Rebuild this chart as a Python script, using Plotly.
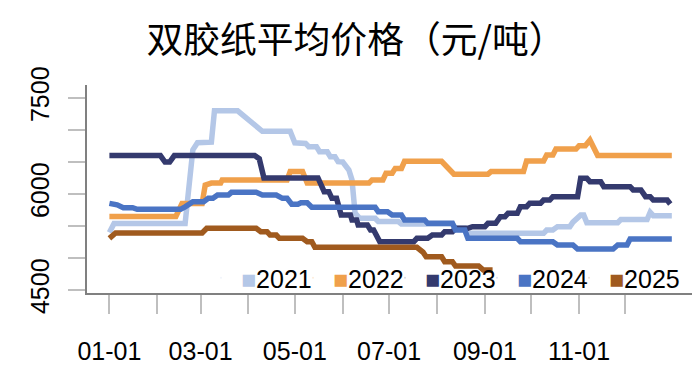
import plotly.graph_objects as go

BASE_YEAR = "2023"

years = ["2021", "2022", "2023", "2024", "2025"]
colors = ["#B4C7E7", "#F0A04B", "#343A6E", "#4A74C4", "#A05A1E"]

dates_2021 = ["01-01", "01-04", "02-19", "02-21", "02-24", "02-27", "03-08", "03-10", "03-25",
              "04-10", "04-28", "05-01", "05-08", "05-10", "05-15", "05-17", "05-22", "05-24",
              "05-27", "05-29", "06-01", "06-05", "06-07", "06-09", "06-12", "06-22", "06-24",
              "07-07", "07-09", "08-11", "08-13", "08-19", "08-21", "10-09", "10-11", "10-15",
              "10-18", "10-26", "10-28", "11-02", "11-04", "11-06", "11-26", "11-28", "12-15",
              "12-17", "12-19", "12-31"]
vals_2021 = [5400, 5540, 5540, 5950, 6690, 6800, 6810, 7300, 7300,
             6980, 6980, 6800, 6790, 6740, 6740, 6660, 6660, 6580,
             6580, 6505, 6500, 6375, 6220, 5700, 5620, 5620, 5570,
             5570, 5530, 5530, 5465, 5465, 5385, 5385, 5437, 5437,
             5490, 5490, 5560, 5670, 5670, 5552, 5552, 5600, 5600,
             5714, 5661, 5661]

dates_2022 = ["01-01", "02-13", "02-17", "03-02", "03-04", "03-08", "03-14", "03-15", "04-26",
              "04-28", "05-06", "05-09", "06-18", "06-20", "06-27", "06-29", "07-03", "07-05",
              "07-09", "07-11", "08-04", "08-08", "08-12", "09-03", "09-05", "09-26", "09-28",
              "10-09", "10-11", "10-15", "10-17", "10-30", "11-01", "11-05", "11-07", "11-08",
              "11-13", "12-31"]
vals_2022 = [5650, 5650, 5850, 5850, 6140, 6170, 6170, 6220, 6220,
             6350, 6350, 6170, 6170, 6220, 6220, 6323, 6323, 6400,
             6400, 6510, 6510, 6400, 6310, 6310, 6350, 6350, 6516,
             6516, 6609, 6609, 6703, 6703, 6755, 6755, 6843, 6843,
             6600, 6600]

dates_2023 = ["01-01", "02-03", "02-06", "02-09", "02-12", "04-05", "04-08", "04-11", "05-16",
              "05-20", "05-23", "05-25", "05-28", "05-31", "06-06", "06-07", "06-10", "06-11",
              "06-17", "06-19", "06-21", "06-25", "07-17", "07-19", "07-26", "07-29", "08-04",
              "08-06", "08-11", "08-13", "08-21", "08-24", "09-01", "09-03", "09-08", "09-11",
              "09-14", "09-16", "09-22", "09-24", "09-28", "09-30", "10-07", "10-09", "10-13",
              "10-15", "10-31", "11-02", "11-06", "11-08", "11-15", "11-17", "12-04", "12-06",
              "12-11", "12-14", "12-17", "12-19", "12-28", "12-30"]
vals_2023 = [6600, 6600, 6500, 6500, 6600, 6600, 6550, 6250, 6250,
             6036, 6036, 5932, 5932, 5672, 5672, 5594, 5594, 5515,
             5515, 5437, 5437, 5255, 5255, 5307, 5307, 5359, 5359,
             5411, 5411, 5464, 5464, 5490, 5490, 5542, 5542, 5646,
             5646, 5698, 5698, 5802, 5802, 5854, 5854, 5906, 5906,
             5958, 5958, 6245, 6245, 6192, 6192, 6115, 6115, 6063,
             6063, 5958, 5958, 5906, 5906, 5844]

dates_2024 = ["01-01", "01-06", "01-10", "01-16", "01-19", "02-16", "02-19", "02-24", "03-03",
              "03-06", "03-09", "03-12", "03-19", "03-21", "04-06", "04-10", "04-19", "04-23",
              "04-26", "04-29", "05-03", "05-05", "05-09", "05-12", "06-22", "06-24", "06-30",
              "07-03", "07-09", "07-11", "07-24", "07-26", "08-11", "08-13", "08-19", "08-21",
              "09-22", "09-24", "10-15", "10-18", "10-28", "10-31", "11-23", "11-26", "12-02",
              "12-04", "12-31"]
vals_2024 = [5854, 5830, 5786, 5786, 5760, 5760, 5800, 5880, 5880,
             5932, 5932, 5984, 5984, 6026, 6026, 5984, 5984, 5932,
             5932, 5840, 5840, 5864, 5864, 5792, 5792, 5724, 5724,
             5672, 5672, 5594, 5594, 5542, 5542, 5437, 5437, 5307,
             5307, 5255, 5255, 5203, 5203, 5141, 5141, 5203, 5203,
             5297, 5297]

dates_2025 = ["01-01", "01-05", "03-02", "03-05", "04-06", "04-09", "04-13", "04-15", "04-19",
              "04-21", "05-06", "05-09", "05-12", "05-14", "07-19", "07-23", "07-25", "08-04",
              "08-06", "08-11", "08-13", "08-28", "08-31", "09-06"]
vals_2025 = [5307, 5390, 5390, 5464, 5464, 5411, 5411, 5359, 5359,
             5307, 5307, 5255, 5255, 5167, 5167, 5090, 5020, 5020,
             4942, 4942, 4875, 4875, 4812, 4812]

series_dates = [dates_2021, dates_2022, dates_2023, dates_2024, dates_2025]
series_vals = [vals_2021, vals_2022, vals_2023, vals_2024, vals_2025]

month_ticks = ["01-01", "02-01", "03-01", "04-01", "05-01", "06-01",
               "07-01", "08-01", "09-01", "10-01", "11-01", "12-01"]
month_labels = ["01-01", "", "03-01", "", "05-01", "", "07-01", "", "09-01", "", "11-01", ""]

y_ticks = [4500, 5000, 5500, 6000, 6500, 7000, 7500]
y_labels = ["4500", "", "", "6000", "", "", "7500"]

title_text = "双胶纸平均价格（元/吨）"

FONT = "Liberation Sans, Arial, sans-serif"

# page body has an 8px default margin: draw the figure 8px smaller
W, H = 692, 363
OFF = 8


def to_date(md):
    return BASE_YEAR + "-" + md


fig = go.Figure()

for name, col, ds, vs in zip(years, colors, series_dates, series_vals):
    fig.add_trace(go.Scatter(
        x=[to_date(d) for d in ds], y=vs, mode="lines", name=name,
        line=dict(color=col, width=5.5), showlegend=False, hoverinfo="x+y+name",
    ))

for i, (name, col) in enumerate(zip(years, colors)):
    fig.add_trace(go.Scatter(
        x=[None], y=[None], mode="markers",
        name='<span style="color:%s">■</span>%s' % (col, name),
        marker=dict(color=col, size=1, opacity=0), showlegend=True,
        legendwidth=(80 if i == len(years) - 1 else 47),
    ))

fig.update_layout(
    width=W, height=H,
    margin=dict(l=87 - OFF, r=5, t=85 - OFF, b=78, autoexpand=False),
    paper_bgcolor="white", plot_bgcolor="white",
    font=dict(family=FONT, size=25, color="#000000"),
    title=dict(text=title_text, x=(356 - OFF) / W, xref="container", xanchor="center",
               y=1 - (40 - OFF) / H, yref="container", yanchor="middle",
               font=dict(family="Noto Sans CJK SC", size=36.8, color="#000000")),
    showlegend=True,
    legend=dict(orientation="h", x=(201 - 87) / 608, xanchor="left",
                y=(293 - 278) / 208, yanchor="middle",
                bgcolor="rgba(0,0,0,0)", borderwidth=0,
                entrywidthmode="pixels",
                font=dict(family=FONT, size=25, color="#000000"),
                itemclick=False, itemdoubleclick=False),
    xaxis=dict(
        type="date", automargin=False,
        range=["2022-12-17 12:00", "2024-01-15"],
        tickvals=[to_date(m) for m in month_ticks], ticktext=month_labels,
        showgrid=False, zeroline=False,
        showline=True, linecolor="#808080", linewidth=1.5,
        ticks="outside", ticklen=19, tickwidth=1.5, tickcolor="#bfbfbf",
        ticklabelstandoff=16,
        tickfont=dict(family=FONT, size=25, color="#000000"),
    ),
    yaxis=dict(
        range=[4453, 7703], automargin=False,
        tickvals=y_ticks, ticktext=y_labels, tickangle=-90,
        showgrid=False, zeroline=False,
        showline=True, linecolor="#808080", linewidth=1.5,
        ticks="outside", ticklen=17, tickwidth=1.5, tickcolor="#bfbfbf",
        ticklabelstandoff=9,
        tickfont=dict(family=FONT, size=25, color="#000000"),
    ),
)

fig.write_html("out.html", config={"displayModeBar": False})
